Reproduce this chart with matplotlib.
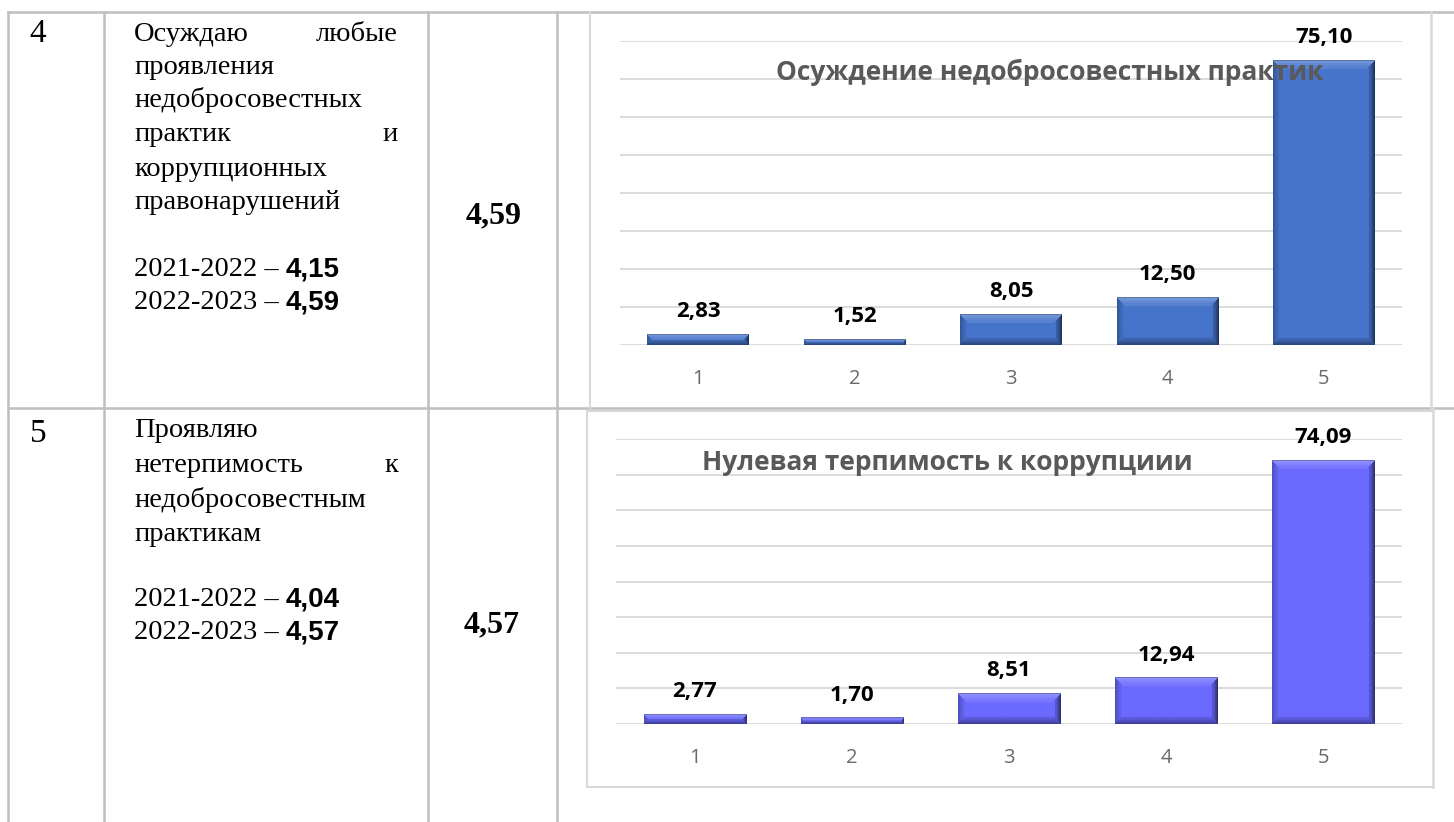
import numpy as np
import matplotlib
matplotlib.use("Agg")
import matplotlib.pyplot as plt
from matplotlib.lines import Line2D

# ---- data ----
categories = ["1", "2", "3", "4", "5"]
vals_1 = [2.83, 1.52, 8.05, 12.50, 75.10]
vals_2 = [2.77, 1.70, 8.51, 12.94, 74.09]
title_1 = "Осуждение недобросовестных практик"
title_2 = "Нулевая терпимость к коррупциии"

row_nums = ["4", "5"]
scores = ["4,59", "4,57"]
prev_1 = ["4,15", "4,59"]
prev_2 = ["4,04", "4,57"]

W, H = 1454, 822
fig = plt.figure(figsize=(W / 100, H / 100), dpi=100)
fig.patch.set_facecolor("white")

# background axes in pixel units for the table
bg = fig.add_axes([0, 0, 1, 1])
bg.set_xlim(0, W)
bg.set_ylim(H, 0)
bg.axis("off")

grid_c = "#BFBFBF"
box_c = "#D9D9D9"


def hline(y, x0, x1, c=grid_c, lw=1.8):
    bg.add_line(Line2D([x0, x1], [y, y], color=c, lw=lw))


def vline(x, y0, y1, c=grid_c, lw=1.8):
    bg.add_line(Line2D([x, x], [y0, y1], color=c, lw=lw))


hline(12, 8, W)
hline(408, 8, W)
for x in [8, 104, 428, 557]:
    vline(x, 12, H)
# chart frames
vline(590, 12, 408, box_c, 1.5)
vline(1431, 12, 408, box_c, 1.8)
vline(587, 411, 787, box_c, 1.5)
vline(1433, 408, 787, box_c, 1.8)
hline(411, 587, 1433, box_c, 1.5)
hline(787, 587, 1433, box_c, 1.5)

serif = "Liberation Serif"
fs = 20.5
off = 9  # baseline offset from the line centre


def put(x, y, s, ha="left", size=fs, **kw):
    return bg.text(x, y + off, s, ha=ha, va="baseline", family=serif,
                   fontsize=size, color="black", **kw)


L, R = 134, 398
# row 4
put(38, 33, row_nums[0], ha="center", size=24)
put(L, 32, "Осуждаю")
put(R, 32, "любые", ha="right")
put(L, 65, "проявления")
put(L, 98, "недобросовестных")
put(L, 132, "практик")
put(R, 132, "и", ha="right")
put(L, 167, "коррупционных")
put(L, 200, "правонарушений")
# row 5
put(38, 433, row_nums[1], ha="center", size=24)
put(L, 428, "Проявляю")
put(L, 463, "нетерпимость")
put(R, 463, "к", ha="right")
put(L, 498, "недобросовестным")
put(L, 532, "практикам")

fig.canvas.draw()
rend = fig.canvas.get_renderer()


def year_line(y, years, num):
    t = put(L, y, years + " – ")
    bb = t.get_window_extent(rend)
    x_end = bg.transData.inverted().transform((bb.x1, 0))[0]
    bg.text(x_end, y + off, num, ha="left", va="baseline",
            family="Liberation Sans", fontweight="bold", fontsize=fs - 0.5)


year_line(267, "2021-2022", prev_1[0])
year_line(300, "2022-2023", prev_1[1])
year_line(597, "2021-2022", prev_2[0])
year_line(630, "2022-2023", prev_2[1])

bg.text(494, 213 + 10, scores[0], ha="center", va="baseline", family=serif,
        fontweight="bold", fontsize=23)
bg.text(492, 622 + 10, scores[1], ha="center", va="baseline", family=serif,
        fontweight="bold", fontsize=23)


def px_rect(l, t, r, b):
    return [l / W, 1 - b / H, (r - l) / W, (b - t) / H]


def lighten(c, s):
    return c + (1 - c) * s


def bevel(h, w, base):
    base = np.array(matplotlib.colors.to_rgb(base))
    h = max(int(round(h)), 2)
    w = max(int(round(w)), 2)
    yy, xx = np.mgrid[0:h, 0:w]
    dt, db = yy, h - 1 - yy
    dl, dr = xx, w - 1 - xx
    img = np.tile(base, (h, w, 1)).astype(float)
    bt = min(9, h / 2)
    bb = min(7, h / 2)
    m = np.minimum.reduce([dt, db, dl, dr])
    top = (dt == m) & (dt < bt)
    bot = (db == m) & (db < bb) & ~top
    left = (dl == m) & (dl < 6) & ~top & ~bot
    right = (dr == m) & (dr < 6) & ~top & ~bot & ~left
    for mask, d, width, s in [(top, dt, bt, 0.28), (bot, db, bb, -0.4),
                              (left, dl, 6, -0.25), (right, dr, 6, -0.55)]:
        k = s * np.clip(1 - d / width, 0.35, 1)
        for ch in range(3):
            c = img[..., ch]
            if s > 0:
                c[mask] = lighten(c[mask], k[mask])
            else:
                c[mask] = c[mask] * (1 + k[mask])
    # thin dark rim at the top
    img[0, :, :] *= 0.75
    return img


def chart(rect, vals, color, title, title_xy):
    ax = fig.add_axes(px_rect(*rect))
    x = np.arange(len(vals))
    bars = ax.bar(x, vals, width=0.65, color=color, zorder=2)
    ax.set_xlim(-0.5, len(vals) - 0.5)
    ax.set_ylim(0, 80)
    ax.set_yticks(np.arange(0, 81, 10))
    ax.yaxis.grid(True, color="#D9D9D9", lw=1.3, zorder=0)
    ax.set_axisbelow(True)
    ax.tick_params(axis="y", length=0, labelleft=False)
    ax.set_xticks(x, categories)
    ax.tick_params(axis="x", length=0, pad=17, labelsize=14.5,
                   labelcolor="#6a6a6a")
    for lab in ax.get_xticklabels():
        lab.set_family("Open Sans")
    for s in ax.spines.values():
        s.set_visible(False)
    px_w = (rect[2] - rect[0]) / len(vals)
    px_h = (rect[3] - rect[1]) / 80
    for b, v in zip(bars, vals):
        img = bevel(v * px_h, b.get_width() * px_w, color)
        ax.imshow(img, extent=(b.get_x(), b.get_x() + b.get_width(), 0, v),
                  aspect="auto", interpolation="bilinear", zorder=3)
        ax.annotate(f"{v:.2f}".replace(".", ","), (b.get_x() + b.get_width() / 2, v),
                    xytext=(0, 12.5), textcoords="offset points", ha="center",
                    va="baseline", family="Open Sans", fontweight="bold",
                    fontsize=16, color="black", zorder=5)
    ax.set_xlim(-0.5, len(vals) - 0.5)
    ax.set_ylim(0, 80)
    fig.text(title_xy[0] / W, 1 - (title_xy[1] + 10) / H, title, ha="center",
             va="baseline", family="Open Sans", fontweight="bold",
             fontsize=19, color="#595959", zorder=10)
    return ax


chart((620, 41.5, 1402, 345), vals_1, "#4674CB", title_1, (1050, 70))
chart((616, 439, 1402, 724), vals_2, "#6A6AFF", title_2, (947, 460))

fig.savefig("out.png", dpi=100, facecolor="white")
